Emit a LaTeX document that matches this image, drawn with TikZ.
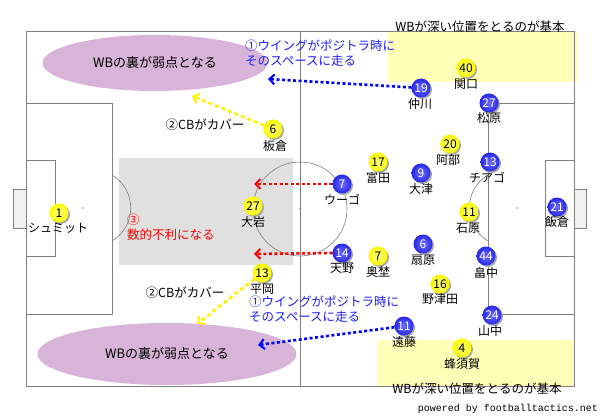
\documentclass[tikz,border=0pt]{standalone}
\usepackage{fontspec}
\setmainfont{Noto Sans CJK JP}
\newfontfamily\monof{Liberation Mono}
\usetikzlibrary{arrows.meta,shadows,shapes.geometric}
\definecolor{fieldline}{RGB}{128,128,128}
\definecolor{zonegray}{RGB}{224,224,224}
\definecolor{zoneyel}{RGB}{255,255,184}
\definecolor{weakpurple}{RGB}{216,180,216}
\definecolor{goalgray}{RGB}{240,240,240}
\definecolor{annblue}{RGB}{30,30,255}
\definecolor{pblue}{RGB}{40,40,230}
\definecolor{pbluein}{RGB}{110,110,255}
\definecolor{pyellow}{RGB}{250,250,0}
\definecolor{pyellowin}{RGB}{255,255,140}
\tikzset{
  fl/.style={draw=fieldline,line width=0.9pt},
  yp/.style={circle,minimum size=19pt,inner sep=0pt,
    shading=radial,inner color=pyellowin,outer color=pyellow,
    drop shadow={shadow xshift=1.5pt,shadow yshift=-1.5pt,fill=black!35,opacity=1},
    font=\fontsize{12}{12}\selectfont,text=black},
  bp/.style={circle,minimum size=19pt,inner sep=0pt,
    shading=radial,inner color=pbluein,outer color=pblue,
    drop shadow={shadow xshift=1.5pt,shadow yshift=-1.5pt,fill=black!35,opacity=1},
    font=\fontsize{12}{12}\selectfont,text=white},
  nm/.style={inner sep=0pt,font=\fontsize{12}{12}\selectfont},
  ann/.style={inner sep=0pt,font=\fontsize{12.5}{15}\selectfont,align=left},
  bluearrow/.style={draw=blue,line width=2.6pt,dash pattern=on 3pt off 2.5pt,
    -{Straight Barb[length=5pt,width=10pt,line width=2pt]}},
  redarrow/.style={draw=red,line width=2.6pt,dash pattern=on 3pt off 2.5pt,
    -{Straight Barb[length=5pt,width=10pt,line width=2pt]}},
  yelarrow/.style={draw=yellow,line width=2.6pt,dash pattern=on 4pt off 3pt,
    -{Straight Barb[length=5pt,width=10pt,line width=2pt]}},
}
\begin{document}
\begin{tikzpicture}[x=1pt,y=-1pt]
\useasboundingbox[fill=white] (0,0) rectangle (600,417);
% zones
\fill[zonegray] (119,158) rectangle (293,265);
\fill[zoneyel] (388,31) rectangle (577,82);
\fill[zoneyel] (377,340) rectangle (575,386);
% field
\draw[fl] (26,31) rectangle (574,386);
\draw[fl] (300,31) -- (300,386);
\draw[fl,line width=0.6pt] (300,209) circle (47);
\fill[fieldline] (300,209) circle (0.9);
\draw[fl] (26,103) rectangle (112,314);
\draw[fl] (26,160) rectangle (55,256);
\draw[fl,fill=goalgray] (13,189) rectangle (26,228);
\fill[fieldline] (83,208) circle (0.9);
\draw[fl] (488,103) rectangle (574,314);
\draw[fl] (545,160) rectangle (574,256);
\draw[fl,fill=goalgray] (574,189) rectangle (586,228);
\fill[fieldline] (517,208) circle (0.9);
% penalty arcs
\draw[fl,line width=0.6pt] (112,175) .. controls (137,190) and (137,226) .. (112,241);
\draw[fl,line width=0.6pt] (488,175) .. controls (463,190) and (463,226) .. (488,241);
% weak zones
\node[ellipse,fill=weakpurple,minimum width=225pt,minimum height=56pt,inner sep=0pt,
  font=\fontsize{13}{13}\selectfont] (ew1) at (155,63) {WBの裏が弱点となる};
\node[ellipse,fill=weakpurple,minimum width=259pt,minimum height=62pt,inner sep=0pt,
  font=\fontsize{13}{13}\selectfont] (ew2) at (167,354) {WBの裏が弱点となる};
% texts
\node[ann,anchor=center] (t1) at (480,27) {WBが深い位置をとるのが基本};
\node[ann,anchor=center] (t2) at (477,389) {WBが深い位置をとるのが基本};
\node[ann,text=annblue,anchor=north west] (t3) at (245,40) {①ウイングがポジトラ時に\\そのスペースに走る};
\node[ann,text=annblue,anchor=north west] (t4) at (249,296) {①ウイングがポジトラ時に\\そのスペースに走る};
\node[ann] (t5) at (205,125) {②CBがカバー};
\node[ann] (t6) at (185,293) {②CBがカバー};
\node[ann,text=red,anchor=north west] (t7) at (127,214) {③\\数的不利になる};
\node[inner sep=0pt,font=\monof\fontsize{10}{10}\selectfont] (pw) at (508,409) {powered by footballtactics.net};
% yellow team
\node[yp] (y1) at (59,213) {1};
\node[nm] at (58,228) {シュミット};
\node[yp] (y27) at (253,206) {27};
\node[nm] at (253,222) {大岩};
\node[yp] (y6) at (273,129) {6};
\node[nm] at (275,146) {板倉};
\node[yp] (y13) at (262,273) {13};
\node[nm] at (262,289) {平岡};
\node[yp] (y40) at (466,68) {40};
\node[nm] at (466,84) {関口};
\node[yp] (y20) at (450,144) {20};
\node[nm] at (448,160) {阿部};
\node[yp] (y17) at (378,162) {17};
\node[nm] at (378,178) {富田};
\node[yp] (y11) at (469,212) {11};
\node[nm] at (468,228) {石原};
\node[yp] (y7) at (378,256) {7};
\node[nm] at (378,272) {奥埜};
\node[yp] (y16) at (440,284) {16};
\node[nm] at (440,299) {野津田};
\node[yp] (y4) at (462,348) {4};
\node[nm] at (462,364) {蜂須賀};
% blue team
\node[bp] (b19) at (421,88) {19};
\node[nm] at (420,104) {仲川};
\node[bp] (b27) at (489,103) {27};
\node[nm] at (489,118) {松原};
\node[bp] (b13) at (490,162) {13};
\node[nm] at (487,178) {チアゴ};
\node[bp] (b9) at (421,173) {9};
\node[nm] at (421,189) {大津};
\node[bp] (b7) at (342,184) {7};
\node[nm] at (342,200) {ウーゴ};
\node[bp] (b21) at (557,207) {21};
\node[nm] at (557,222) {飯倉};
\node[bp] (b6) at (423,244) {6};
\node[nm] at (423,260) {扇原};
\node[bp] (b14) at (342,253) {14};
\node[nm] at (342,268) {天野};
\node[bp] (b44) at (486,256) {44};
\node[nm] at (486,273) {畠中};
\node[bp] (b24) at (492,315) {24};
\node[nm] at (490,331) {山中};
\node[bp] (b11) at (404,326) {11};
\node[nm] at (404,342) {遠藤};
% arrow ends
\coordinate (e1) at (268,79);
\coordinate (e2) at (258,345);
\coordinate (e3) at (192,96);
\coordinate (e4) at (197,324);
\coordinate (e5) at (254,184);
\coordinate (e6) at (254,254);
\draw[bluearrow] (b19) -- (e1);
\draw[bluearrow] (b11) -- (e2);
\draw[yelarrow] (y6) -- (e3);
\draw[yelarrow] (y13) -- (e4);
\draw[redarrow] (b7) -- (e5);
\draw[redarrow] (b14.west) -- (e6);
\end{tikzpicture}
\end{document}
